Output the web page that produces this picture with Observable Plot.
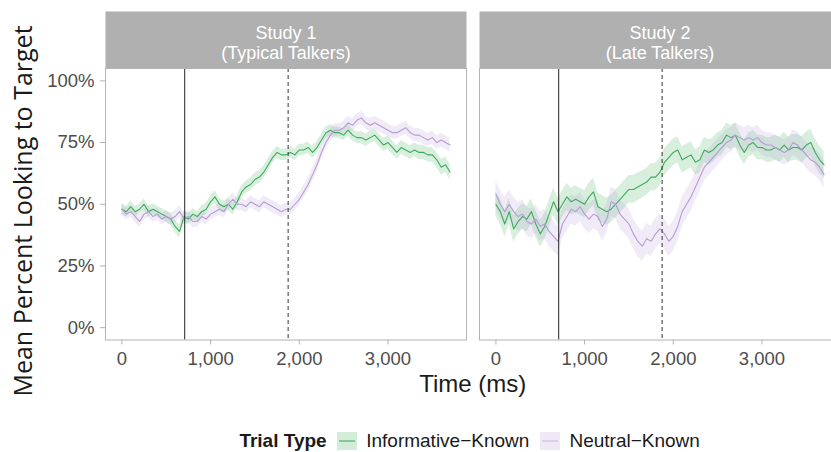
<!DOCTYPE html>
<html><head><meta charset="utf-8">
<script src="https://cdn.jsdelivr.net/npm/d3@7"></script>
<script src="https://cdn.jsdelivr.net/npm/@observablehq/plot@0.6"></script>
<style>
html,body{margin:0;padding:0;background:#fff;overflow:hidden;}
#wrap{position:relative;width:831px;height:452px;overflow:hidden;background:#fff;}
#wrap svg.mainchart{position:absolute;left:0;top:0;max-width:none !important;width:841px;height:452px;}
.ytitle{position:absolute;left:22px;top:211px;transform:translate(-50%,-50%) rotate(-90deg);white-space:nowrap;font-family:"Open Sans",sans-serif;font-size:25px;color:#1a1a1a;line-height:1;}
.xtitle{position:absolute;left:472.7px;top:372px;transform:translateX(-50%);white-space:nowrap;font-family:"Liberation Sans",Arial,sans-serif;font-size:24px;color:#1a1a1a;line-height:24px;}
.legend{position:absolute;left:239.4px;top:430px;height:22px;display:flex;align-items:center;font-family:"Liberation Sans",Arial,sans-serif;font-size:19px;color:#1a1a1a;white-space:nowrap;}
.legend b{margin-right:10px;}
.legend svg.key{display:block;margin-right:9.5px;}
.legend span.item{margin-right:10.6px;}
</style></head><body><div id="wrap"></div>
<script>
// ---- data ----
const studies = ["Study 1", "Study 2"];
const stripLabels = ["Study 1\n(Typical Talkers)", "Study 2\n(Late Talkers)"];
const trialTypes = ["Informative−Known", "Neutral−Known"];
const legendTitle = "Trial Type";
const xTitle = "Time (ms)";
const yTitle = "Mean Percent Looking to Target";
const xTicks = [0, 1000, 2000, 3000];
const yTicks = [0, 0.25, 0.5, 0.75, 1];
const nounOnset = 708;      // solid vertical line (ms)
const windowStart = 1874;   // dashed vertical line (ms)

const times = [0,50,100,150,200,250,300,350,400,450,500,550,600,650,700,750,800,850,900,950,
  1000,1050,1100,1150,1200,1250,1300,1350,1400,1450,1500,1550,1600,1650,1700,1750,1800,1850,1900,1950,
  2000,2050,2100,2150,2200,2250,2300,2350,2400,2450,2500,2550,2600,2650,2700,2750,2800,2850,2900,2950,
  3000,3050,3100,3150,3200,3250,3300,3350,3400,3450,3500,3550,3600,3650,3700];

// mean percent looking (%)
const s1Info = [48,47,49,47,48,50,47,48,47,46, 45,44,41,39,45,44,46,45,47,48, 51,53,50,49,50,48,51,55,57,58,
  60,61,63,66,69,71,70,70,71,70, 72,72,73,71,73,76,79,80,79,79, 78,80,78,77,77,76,77,78,76,74,
  75,73,71,73,72,71,72,71,71,70, 70,68,65,66,63];
const s1Neut = [48,46,47,45,43,46,47,45,46,44, 45,44,45,47,44,45,43,43,45,44, 46,47,48,47,50,52,50,50,49,51,
  50,49,51,50,49,48,47,48,48,50, 52,55,58,62,66,71,75,78,80,80, 81,83,82,84,85,83,82,83,82,81,
  80,79,79,80,81,79,78,78,77,76, 77,75,76,75,74];
const s2Info = [50,47,42,47,40,43,45,44,47,42, 38,41,46,51,47,50,53,51,52,51, 50,53,55,49,48,47,48,50,52,54,
  56,56,57,58,59,61,61,63,67,69, 71,72,68,69,70,67,68,72,71,72, 74,75,78,77,78,74,71,74,75,73,
  73,72,72,73,72,74,72,73,73,72, 74,75,71,68,66];
const s2Neut = [54,50,47,50,47,45,46,43,42,44, 41,42,39,37,35,42,45,48,47,49, 46,44,46,45,41,44,51,50,46,44,
  42,38,35,33,36,35,38,40,38,35, 37,41,47,50,53,57,61,65,67,69, 71,73,75,76,78,77,76,77,76,77,
  75,74,74,73,72,71,72,75,74,72, 70,68,67,65,62];

// standard error half-widths (%)
const s1InfoSE = [2.2,2.2,2.3,2.2,2.1,2.2,2.3,2.2,2.2,2.3, 2.3,2.4,2.5,2.6,2.4,2.3,2.3,2.2,2.3,2.4, 2.4,2.5,2.4,2.3,2.3,2.4,2.4,2.5,2.5,2.6,
  2.6,2.6,2.5,2.5,2.4,2.4,2.3,2.3,2.3,2.3, 2.3,2.3,2.3,2.4,2.4,2.4,2.4,2.3,2.3,2.3, 2.3,2.4,2.4,2.4,2.5,2.5,2.5,2.6,2.6,2.6,
  2.7,2.7,2.7,2.8,2.8,2.8,2.8,2.9,2.9,2.9, 3.0,3.0,3.1,3.1,3.2];
const s1NeutSE = [2.2,2.3,2.3,2.4,2.4,2.4,2.3,2.3,2.4,2.4, 2.4,2.5,2.5,2.5,2.5,2.4,2.4,2.4,2.4,2.4, 2.4,2.4,2.5,2.5,2.5,2.5,2.5,2.5,2.4,2.4,
  2.4,2.4,2.4,2.4,2.4,2.4,2.4,2.4,2.4,2.5, 2.5,2.6,2.6,2.7,2.7,2.7,2.6,2.6,2.6,2.6, 2.6,2.6,2.6,2.6,2.6,2.6,2.6,2.6,2.6,2.6,
  2.6,2.6,2.6,2.6,2.6,2.6,2.7,2.7,2.7,2.7, 2.7,2.8,2.8,2.8,2.8];
const s2InfoSE = [5.0,5.2,5.2,5.3,5.3,5.3,5.2,5.2,5.2,5.3, 5.3,5.4,5.5,5.5,5.5,5.5,5.5,5.5,5.5,5.5, 5.5,5.5,5.5,5.5,5.5,5.5,5.5,5.6,5.6,5.6,
  5.6,5.6,5.6,5.6,5.5,5.5,5.5,5.5,5.4,5.4, 5.4,5.3,5.3,5.3,5.2,5.2,5.2,5.1,5.1,5.0, 5.0,5.0,4.9,4.9,4.9,4.9,4.9,4.9,4.9,5.0,
  5.0,5.0,5.0,5.1,5.1,5.2,5.2,5.2,5.3,5.3, 5.3,5.4,5.4,5.5,5.5];
const s2NeutSE = [5.6,5.6,5.7,5.7,5.8,5.8,5.8,5.9,5.9,5.9, 6.0,6.0,6.0,6.1,6.1,6.0,6.0,6.0,5.9,5.9, 5.9,5.9,5.9,5.9,5.9,5.9,5.9,6.0,6.0,6.0,
  6.1,6.1,6.2,6.2,6.2,6.2,6.2,6.1,6.1,6.1, 6.0,6.0,6.0,5.9,5.9,5.8,5.7,5.6,5.5,5.4, 5.3,5.2,5.1,5.0,5.0,5.0,5.0,5.0,5.0,5.0,
  5.0,5.0,5.0,5.0,5.1,5.1,5.1,5.2,5.2,5.2, 5.3,5.3,5.4,5.4,5.5];

const greenLine = "#3dad5b", purpleLine = "#b59dd5";

// ---- build table ----
const series = [
  {study: studies[0], type: trialTypes[0], mean: s1Info, se: s1InfoSE},
  {study: studies[0], type: trialTypes[1], mean: s1Neut, se: s1NeutSE},
  {study: studies[1], type: trialTypes[0], mean: s2Info, se: s2InfoSE},
  {study: studies[1], type: trialTypes[1], mean: s2Neut, se: s2NeutSE}
];
const rows = series.flatMap(s => times.map((t, i) => ({
  study: s.study, type: s.type, t,
  y: s.mean[i] / 100, lo: (s.mean[i] - s.se[i]) / 100, hi: (s.mean[i] + s.se[i]) / 100
})));

const grey70 = "#b3b3b3";
const chart = Plot.plot({
  width: 841, height: 452,
  className: "mainchart",
  marginLeft: 104.7, marginRight: 0, marginTop: 68, marginBottom: 112.5,
  style: {fontFamily: "'Liberation Sans', Arial, sans-serif", fontSize: "18.5px", background: "white", overflow: "visible", maxWidth: "none"},
  fx: {domain: studies, paddingInner: 0.0336, paddingOuter: 0, axis: null, label: null},
  x: {domain: [-185, 3885], label: null},
  y: {domain: [-0.05, 1.05], label: null},
  color: {domain: trialTypes, range: [greenLine, purpleLine]},
  marks: [
    Plot.frame({fill: "#b0b0b0", stroke: "none", insetTop: -57, insetBottom: 271.5}),
    Plot.text(studies, {fx: d => d, text: (d, i) => stripLabels[i], frameAnchor: "top", lineAnchor: "middle", dy: -26,
      fill: "white", fontSize: 18, lineHeight: 1.15}),
    Plot.areaY(rows, {fx: "study", x: "t", y1: "lo", y2: "hi", z: "type", fill: "type", fillOpacity: 0.2}),
    Plot.lineY(rows, {fx: "study", x: "t", y: "y", z: "type", stroke: "type", strokeWidth: 1.1}),
    Plot.ruleX([nounOnset], {stroke: "#222", strokeWidth: 1}),
    Plot.ruleX([windowStart], {stroke: "#333", strokeWidth: 1, strokeDasharray: "4,3"}),
    Plot.frame({stroke: grey70, strokeWidth: 1}),
    Plot.axisY({ticks: yTicks, tickFormat: d3.format(".0%"), tickSize: 5, tickPadding: 6,
      stroke: grey70, fill: "#4d4d4d", label: null}),
    Plot.axisX({ticks: xTicks, tickFormat: d3.format(","), tickSize: 5, tickPadding: 7,
      stroke: grey70, fill: "#4d4d4d", label: null})
  ]
});
chart.classList.add("mainchart");

const wrap = document.getElementById("wrap");
wrap.appendChild(chart);

const yt = document.createElement("div"); yt.className = "ytitle"; yt.textContent = yTitle; wrap.appendChild(yt);
const xt = document.createElement("div"); xt.className = "xtitle"; xt.textContent = xTitle; wrap.appendChild(xt);

const lg = document.createElement("div"); lg.className = "legend";
const b = document.createElement("b"); b.textContent = legendTitle; lg.appendChild(b);
const keyColors = [greenLine, purpleLine];
trialTypes.forEach((tt, i) => {
  const ns = "http://www.w3.org/2000/svg";
  const k = document.createElementNS(ns, "svg");
  k.setAttribute("class", "key");
  k.setAttribute("width", 20); k.setAttribute("height", 18);
  const r = document.createElementNS(ns, "rect");
  r.setAttribute("width", 20); r.setAttribute("height", 18);
  r.setAttribute("fill", keyColors[i]); r.setAttribute("fill-opacity", 0.22);
  const l = document.createElementNS(ns, "line");
  l.setAttribute("x1", 2); l.setAttribute("x2", 18); l.setAttribute("y1", 9); l.setAttribute("y2", 9);
  l.setAttribute("stroke", keyColors[i]); l.setAttribute("stroke-width", 1.1);
  if (i === 1) l.setAttribute("stroke-opacity", 0.6);
  k.appendChild(r); k.appendChild(l); lg.appendChild(k);
  const s = document.createElement("span"); s.className = "item"; s.textContent = tt; lg.appendChild(s);
});
wrap.appendChild(lg);
</script>
</body></html>
